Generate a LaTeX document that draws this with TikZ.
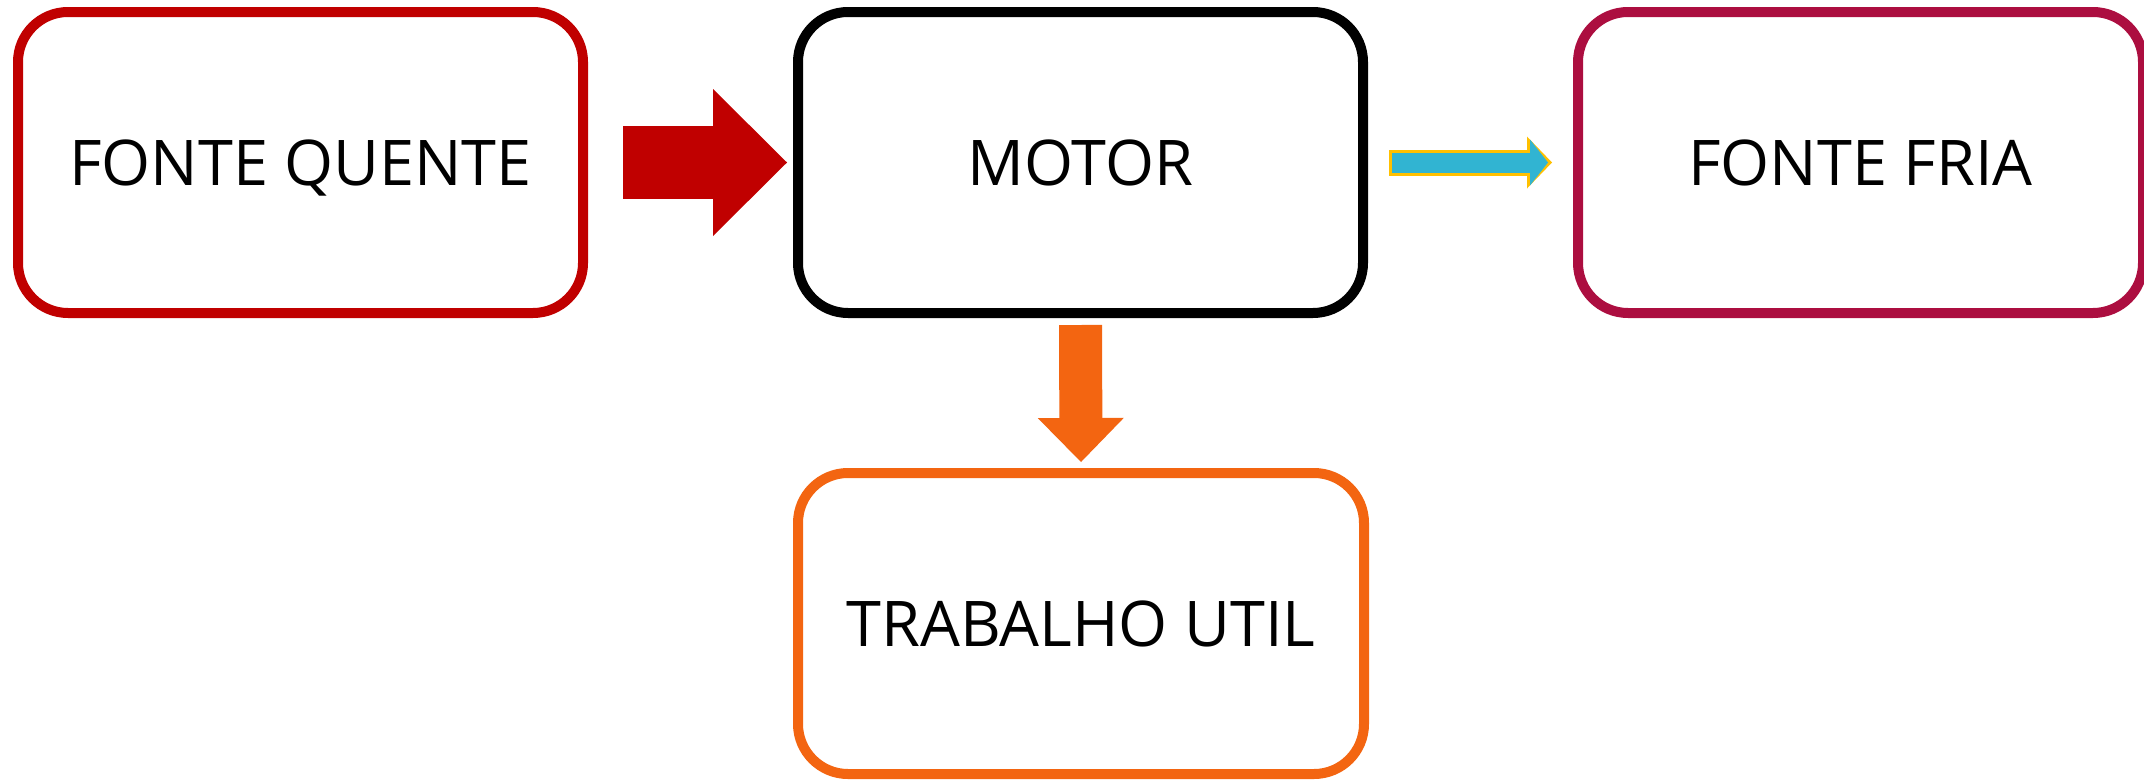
\documentclass[tikz,border=0pt]{standalone}
\usepackage{fontspec}
\setmainfont{Open Sans}
\usetikzlibrary{arrows.meta}

\begin{document}
\begin{tikzpicture}[x=1pt,y=-1pt,
  outline/.style={draw=#1,line width=10pt,rounded corners=50pt,minimum width=565pt,minimum height=301pt,
    text height=46pt,text depth=0pt,font=\fontsize{63}{70}\selectfont},
  flow/.style={line width=#1}]
  \definecolor{quente}{HTML}{C00000};
  \definecolor{fria}{HTML}{AC0E40};
  \definecolor{trabalho}{HTML}{F36511};
  \definecolor{calor}{HTML}{31B4D2};
  \definecolor{borda}{HTML}{FFC000};
  \useasboundingbox (0,0) rectangle (2144,779);
	\node [outline=quente] (quente) at (300.5,162.5) {FONTE QUENTE};
	\node [outline=black] (motor) at (1080.5,162.5) {MOTOR};
	\node [outline=fria] (fria) at (1860.5,162.5) {FONTE FRIA};
	\node [outline=trabalho,minimum width=566pt] (trabalho) at (1081,623.5) {TRABALHO UTIL};
	\draw [quente,flow=73pt,-{Triangle[length=74pt,width=147pt,line width=0pt]}]
	  ([xshift=35pt]quente.east) -- ([xshift=-6pt]motor.west);
	\draw [borda,flow=26pt,-{Triangle[length=25pt,width=52pt,line width=0pt]}]
	  ([xshift=21pt]motor.east) -- ([xshift=-21pt]fria.west);
	\draw [calor,flow=20pt,-{Triangle[length=18pt,width=46pt,line width=0pt]}]
	  ([xshift=24pt]motor.east) -- ([xshift=-25pt]fria.west);
	\draw [trabalho,flow=43pt,-{Triangle[length=44pt,width=86pt,line width=0pt]}]
	  ([yshift=-7pt]motor.south) -- ([yshift=6pt]trabalho.north);
\end{tikzpicture}
\end{document}
